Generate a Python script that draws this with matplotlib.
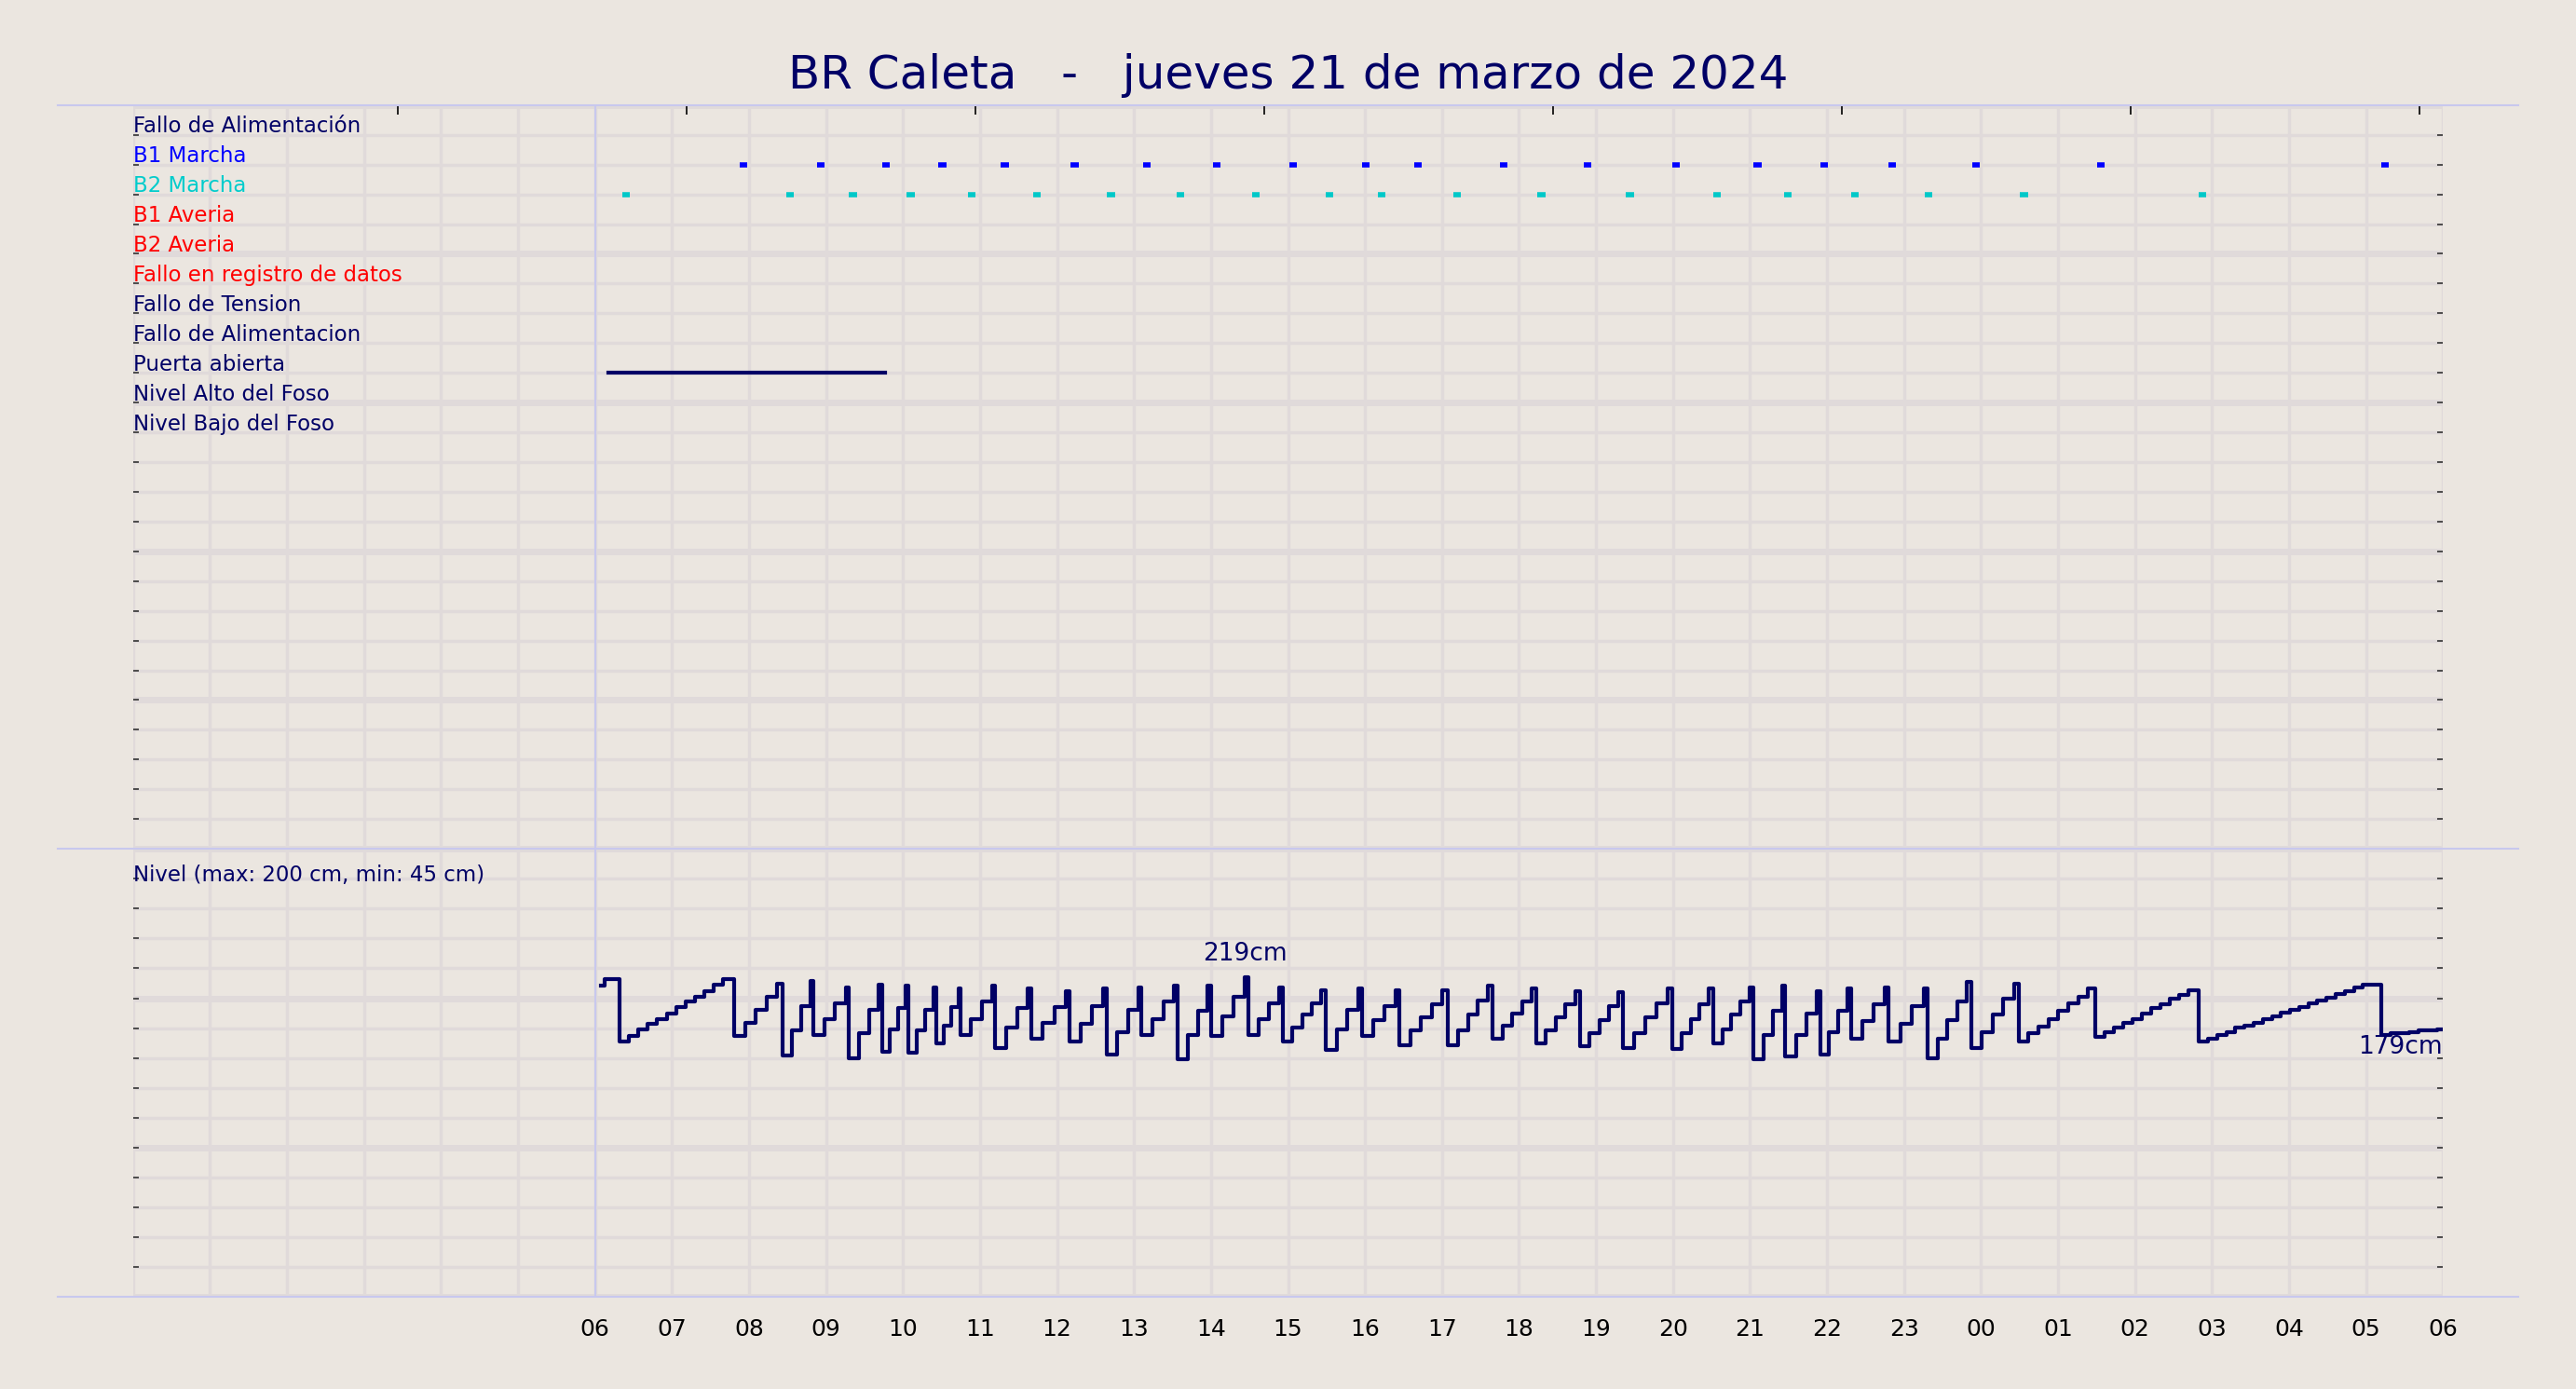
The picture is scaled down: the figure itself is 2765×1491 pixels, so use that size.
import matplotlib
matplotlib.use("Agg")
import matplotlib.pyplot as plt
import numpy as np

hour_labels = ["06","07","08","09","10","11","12","13","14","15","16","17","18","19","20","21","22","23","00","01","02","03","04","05","06"]
row_labels = ["Fallo de Alimentación","B1 Marcha","B2 Marcha","B1 Averia","B2 Averia",
              "Fallo en registro de datos","Fallo de Tension","Fallo de Alimentacion",
              "Puerta abierta","Nivel Alto del Foso","Nivel Bajo del Foso"]
row_colors = ["#000066","#0000ff","#00cccc","#ff0000","#ff0000","#ff0000",
              "#000066","#000066","#000066","#000066","#000066"]
b1_on = [1.88,2.88,3.73,4.46,5.27,6.18,7.12,8.02,9.02,9.96,10.64,11.75,12.84,13.99,15.05,15.91,16.80,17.89,19.51,23.20]
b2_on = [0.35,2.48,3.30,4.05,4.84,5.69,6.65,7.55,8.53,9.49,10.17,11.15,12.24,13.39,14.52,15.44,16.31,17.27,18.51,20.83]
puerta = (0.17, 3.77)

# level: start segment then cycles (drop time, trough after drop, peak before drop)
start_t = [0.08, 0.12]
start_l = [212, 217]
drops   = [0.32,1.81,2.43,2.84,3.30,3.73,4.07,4.43,4.75,5.20,5.67,6.16,6.65,7.10,7.57,8.00,8.49,8.93,9.49,9.96,
           10.45,11.07,11.66,12.22,12.79,13.35,13.99,14.52,15.05,15.46,15.91,16.31,16.80,17.31,17.87,18.49,19.49,20.83,23.20]
peaks   = [217,217,214,216,211,213,212,211,210,212,210,208,210,211,212,212,219,211,209,210,
           209,209,212,210,208,207,210,210,211,212,208,210,211,210,215,214,210,209,213]
troughs = [170,174,159,175,157,162,161,168,175,165,172,170,160,175,156,174,175,170,163,174,
           167,167,172,168,166,165,164,168,156,158,160,172,170,157,165,170,173,170,175]
end_level = 179
t_end = 24.0

bg = "#ebe6e0"
navy = "#000066"
fig = plt.figure(figsize=(27.65,14.91), dpi=100, facecolor=bg)
L, R = 81/1568, 1487/1568
ax1 = fig.add_axes([L, 1-517/846, R-L, (517-64)/846])
ax2 = fig.add_axes([L, 1-790/846, R-L, (790-517)/846])

for ax in (ax1, ax2):
    ax.set_facecolor(bg)
    ax.set_xlim(-6, 24)
    for s in ax.spines.values():
        s.set_visible(False)
    for h in range(-6, 25):
        ax.axvline(h, color="#e0dada", lw=2.5, zorder=0)
    ax.axvline(0, color="#c8c8ee", lw=1.5, zorder=1)

# top panel
ax1.set_ylim(25, 0)
for k in range(26):
    ax1.axhline(k, color="#e0dada", lw=5 if k % 5 == 0 else 2.5, zorder=0)
ax1.set_yticks(range(1, 25))
ax1.set_yticklabels([])
ax1.tick_params(axis="y", left=True, right=True, length=4, width=1.2, direction="in", colors="#333333")
ax1.set_xticks([])
for i, (lab, c) in enumerate(zip(row_labels, row_colors)):
    ax1.text(-6, i + 1 - 0.28, lab, color=c, fontsize=16.5, va="center", ha="left")
w = 0.1
for t in b1_on:
    ax1.plot([t, t + w], [2, 2], color="#0000ff", lw=4, solid_capstyle="butt")
for t in b2_on:
    ax1.plot([t, t + w], [3, 3], color="#00c8c8", lw=4, solid_capstyle="butt")
ax1.plot(list(puerta), [9, 9], color=navy, lw=3)
top = ax1.secondary_xaxis("top")
top.set_xticks([-2.56 + 3.75 * i for i in range(8)])
top.set_xticklabels([])
top.tick_params(length=7, direction="in", width=1.2)
top.spines["top"].set_visible(False)

# bottom panel
ymin, ymax = -25, 316.5
ax2.set_ylim(ymin, ymax)
yt = np.linspace(ymax, ymin, 16)
for i, y in enumerate(yt):
    ax2.axhline(y, color="#e0dada", lw=5 if i % 5 == 0 else 2.5, zorder=0)
ax2.set_yticks(yt[1:-1])
ax2.set_yticklabels([])
ax2.tick_params(axis="y", left=True, right=True, length=4, width=1.2, direction="in", colors="#333333")
ax2.set_xticks(range(0, 25))
ax2.set_xticklabels(hour_labels, fontsize=18)
ax2.tick_params(axis="x", length=0, pad=16)
ax2.text(-6, ymax - 0.035*(ymax-ymin), "Nivel (max: 200 cm, min: 45 cm)", color=navy, fontsize=16.5, va="top")

T = list(start_t); Lv = list(start_l)
for i, d in enumerate(drops):
    nxt = drops[i + 1] if i + 1 < len(drops) else t_end
    pk = peaks[i + 1] if i + 1 < len(drops) else end_level
    tr = troughs[i]
    g = nxt - d
    n = max(3, int(g / 0.13))
    for j in range(n + 1):
        T.append(d + 0.9 * g * j / n)
        Lv.append(round(tr + (pk - tr) * j / n))
T.append(t_end); Lv.append(end_level)
ax2.plot(T, Lv, drawstyle="steps-post", color=navy, lw=3)
imax = int(np.argmax(Lv))
ax2.text(T[imax], Lv[imax] + 8, f"{Lv[imax]}cm", color=navy, fontsize=19, ha="center", va="bottom")
ax2.text(t_end, end_level - 4, f"{end_level}cm", color=navy, fontsize=19, ha="right", va="top")

for yy in (64, 517, 790):
    fig.add_artist(plt.Line2D([35/1568, 1533/1568], [1-yy/846]*2, color="#c8c8ee", lw=1.5))
fig.text(0.5, 1-46/846, "BR Caleta   -   jueves 21 de marzo de 2024", ha="center", va="center",
         fontsize=36, color=navy)
fig.savefig("out.png", dpi=100, facecolor=bg)
